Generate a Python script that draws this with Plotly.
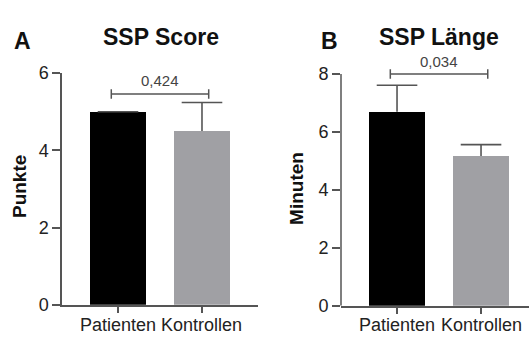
import plotly.graph_objects as go

categories = ["Patienten", "Kontrollen"]
score_means = [5.0, 4.5]
score_sd = [0.0, 0.74]
length_means = [6.70, 5.17]
length_sd = [0.91, 0.39]
p_values = ["0,424", "0,034"]
bracket_y = [5.46, 8.0]
titles = ["SSP Score", "SSP Länge"]
panel_letters = ["A", "B"]
y_titles = ["Punkte", "Minuten"]
y_ranges = [[0, 6], [0, 8.35]]
y_ticks = [[0, 2, 4, 6], [0, 2, 4, 6, 8]]

W, H = 529, 343
bar_colors = ["#000000", "#a0a0a4"]
axis_col = "#555555"
FONT = "Liberation Sans, Arial, sans-serif"

fig = go.Figure()

panels = [(score_means, score_sd, "x", "y"), (length_means, length_sd, "x2", "y2")]
for means, sds, xa, ya in panels:
    fig.add_trace(go.Bar(x=categories, y=means, marker=dict(color=bar_colors, line=dict(width=0)),
                         width=0.667, xaxis=xa, yaxis=ya, showlegend=False, hoverinfo="skip"))
    # one-sided (upper) error bars: stem + cap
    ex, ey = [], []
    for c, m, s in zip(categories, means, sds):
        ex += [c, c, None]
        ey += [m, m + s, None]
    fig.add_trace(go.Scatter(x=ex, y=ey, mode="lines", line=dict(color=axis_col, width=1.6),
                             xaxis=xa, yaxis=ya, showlegend=False, hoverinfo="skip"))
    fig.add_trace(go.Scatter(x=categories, y=[m + s for m, s in zip(means, sds)], mode="markers",
                             marker=dict(symbol="line-ew", size=29, color=axis_col,
                                         line=dict(color=axis_col, width=1.6)),
                             xaxis=xa, yaxis=ya, showlegend=False, hoverinfo="skip"))

xdomA = [62 / W, 258 / W]
ydomA = [(H - 313) / H, (H - 67) / H]
xdomB = [341 / W, 1.0]
ydomB = [(H - 314) / H, (H - 57.2) / H]

xaxis_common = dict(showgrid=False, zeroline=False, ticks="outside", ticklen=7, tickwidth=1.5,
                    tickcolor=axis_col, linecolor=axis_col, linewidth=1.5, showticklabels=False)
yaxis_common = dict(showgrid=False, zeroline=False, ticks="outside", ticklen=8, tickwidth=1.5,
                    tickcolor=axis_col, linecolor=axis_col, linewidth=1.5,
                    tickfont=dict(family=FONT, size=18, color="#222222"))

fig.update_layout(
    width=W, height=H, margin=dict(l=0, r=0, t=0, b=0),
    plot_bgcolor="white", paper_bgcolor="white", bargap=0,
    xaxis=dict(domain=xdomA, anchor="y", range=[-0.667, 1.667], showline=True, **xaxis_common),
    yaxis=dict(domain=ydomA, anchor="x", range=y_ranges[0], tickvals=y_ticks[0], showline=True,
               **yaxis_common),
    xaxis2=dict(domain=xdomB, anchor="y2", range=[-0.667, -0.667 + 188 / 84], showline=True,
                **xaxis_common),
    yaxis2=dict(domain=ydomB, anchor="x2", range=y_ranges[1], tickvals=y_ticks[1], showline=False,
                **yaxis_common),
)

shapes = []
shapes.append(dict(type="line", xref="x2 domain", yref="y2", x0=0, x1=0, y0=0, y1=8,
                   line=dict(color=axis_col, width=1.5)))

annotations = []
xrefs = ["x", "x2"]
yrefs = ["y", "y2"]
px_per_unit = [41.0, 30.75]
for i in range(2):
    by = bracket_y[i]
    d = 5 / px_per_unit[i]
    x0, x1 = -0.08, 1.08
    shapes.append(dict(type="line", xref=xrefs[i], yref=yrefs[i], x0=x0, x1=x1, y0=by, y1=by,
                       line=dict(color=axis_col, width=1.5)))
    for xx in (x0, x1):
        shapes.append(dict(type="line", xref=xrefs[i], yref=yrefs[i], x0=xx, x1=xx, y0=by - d, y1=by + d,
                           line=dict(color=axis_col, width=1.5)))
    annotations.append(dict(xref=xrefs[i], yref=yrefs[i], x=0.5, y=by, text=p_values[i], showarrow=False,
                            yshift=13, font=dict(family=FONT, size=15, color="#444444")))
    for c in categories:
        annotations.append(dict(xref=xrefs[i], yref="paper", x=c, y=(H - 335) / H, text=c,
                                showarrow=False, xanchor="center", yanchor="middle",
                                font=dict(family=FONT, size=18, color="#222222")))

title_x = [161, 439]
letter_x = [22, 329]
ylab_x = [19, 297]
ylab_y = [188, 190]
for i in range(2):
    annotations.append(dict(xref="paper", yref="paper", x=title_x[i] / W, y=(H - 29) / H, text=titles[i],
                            showarrow=False, xanchor="center", yanchor="middle",
                            font=dict(family=FONT, size=23, color="#111111", weight="bold")))
    annotations.append(dict(xref="paper", yref="paper", x=letter_x[i] / W, y=(H - 33) / H, text=panel_letters[i],
                            showarrow=False, xanchor="center", yanchor="middle",
                            font=dict(family=FONT, size=23, color="#111111", weight="bold")))
    annotations.append(dict(xref="paper", yref="paper", x=ylab_x[i] / W, y=(H - ylab_y[i]) / H, text=y_titles[i],
                            showarrow=False, xanchor="center", yanchor="middle", textangle=-90,
                            font=dict(family=FONT, size=19, color="#111111", weight="bold")))

fig.update_layout(shapes=shapes, annotations=annotations)
fig.write_html("out.html", config={"displayModeBar": False},
               post_script="document.body.style.margin='0';")
